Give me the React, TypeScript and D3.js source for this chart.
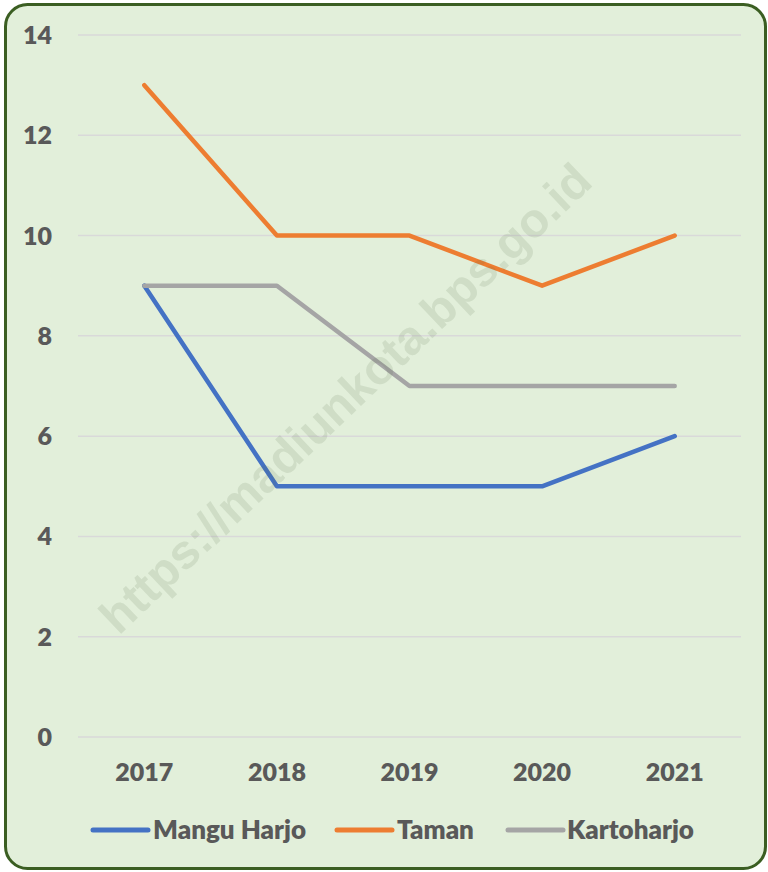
import React from "react";
import * as d3 from "d3";

const years = ["2017", "2018", "2019", "2020", "2021"];
const manguHarjo = [9, 5, 5, 5, 6];
const taman = [13, 10, 10, 9, 10];
const kartoharjo = [9, 9, 7, 7, 7];
const yTicks = [0, 2, 4, 6, 8, 10, 12, 14];
const seriesNames = ["Mangu Harjo", "Taman", "Kartoharjo"];
const seriesColors = ["#4472C4", "#ED7D31", "#A5A5A5"];
const watermark = "https://madiunkota.bps.go.id";

const W = 768;
const H = 872;
const font = "Lato, 'Open Sans', sans-serif";
const textColor = "#595959";

export default function App() {
  const x = d3.scaleBand<string>().domain(years).range([78, 741]).padding(0);
  const y = d3.scaleLinear().domain([0, 14]).range([737, 35]);
  const cx = (yr: string) => (x(yr) as number) + x.bandwidth() / 2;
  const line = d3
    .line<number>()
    .x((_, i) => cx(years[i]))
    .y((d) => y(d));
  const series = [manguHarjo, taman, kartoharjo];

  const legendItems = [
    { lx: 93, tx: 153 },
    { lx: 337, tx: 397 },
    { lx: 508, tx: 567 },
  ];

  return (
    <svg
      width={W}
      height={H}
      style={{ position: "absolute", left: 0, top: 0 }}
      xmlns="http://www.w3.org/2000/svg"
    >
      <rect x={5.5} y={4.5} width={760} height={864} rx={22} ry={22} fill="#E2EFDA" stroke="#3B5E22" strokeWidth={3} />
      {yTicks.map((t) => (
        <g key={t}>
          <line x1={78} x2={741} y1={y(t)} y2={y(t)} stroke="#D9D9D9" strokeWidth={1.5} />
          <text x={52} y={y(t)} dy="0.36em" textAnchor="end" fontFamily={font} fontWeight={800} fontSize={25} fill={textColor}>
            {t}
          </text>
        </g>
      ))}
      {years.map((yr) => (
        <text key={yr} x={cx(yr)} y={772} dy="0.36em" textAnchor="middle" fontFamily={font} fontWeight={800} fontSize={25} fill={textColor}>
          {yr}
        </text>
      ))}
      {series.map((s, i) => (
        <path key={i} d={line(s) as string} fill="none" stroke={seriesColors[i]} strokeWidth={4.5} strokeLinejoin="round" strokeLinecap="round" />
      ))}
      <text
        transform={`translate(345,398) rotate(-43.5)`}
        textAnchor="middle"
        dy="0.35em"
        fontFamily="'Liberation Sans', Arial, sans-serif"
        fontWeight={700}
        fontSize={48}
        fill="#5a6e50"
        fillOpacity={0.14}
      >
        {watermark}
      </text>
      {seriesNames.map((n, i) => (
        <g key={n}>
          <line x1={legendItems[i].lx} x2={legendItems[i].lx + 55} y1={830} y2={830} stroke={seriesColors[i]} strokeWidth={5} strokeLinecap="round" />
          <text x={legendItems[i].tx} y={830} dy="0.36em" fontFamily={font} fontWeight={800} fontSize={26} fill={textColor}>
            {n}
          </text>
        </g>
      ))}
    </svg>
  );
}
